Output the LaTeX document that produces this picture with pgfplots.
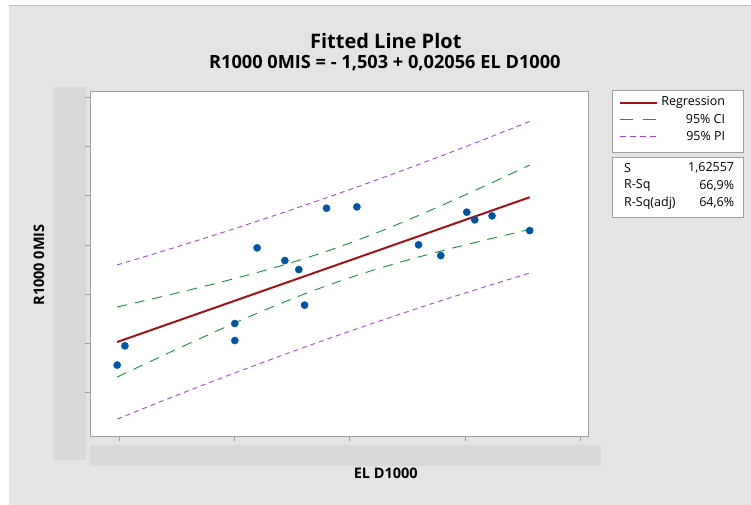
\documentclass[border=0pt]{standalone}
\usepackage{fontspec}
\setmainfont{Open Sans}
\usepackage{pgfplots}
\pgfplotsset{compat=1.18}
\definecolor{bg}{RGB}{228,228,228}
\definecolor{labbox}{RGB}{217,217,217}
\definecolor{axisgrey}{RGB}{160,160,160}
\definecolor{regred}{RGB}{160,20,25}
\definecolor{cigreen}{RGB}{20,150,50}
\definecolor{pipurple}{RGB}{170,70,215}
\definecolor{ptblue}{RGB}{0,84,166}
\begin{document}
\begin{tikzpicture}[x=1pt,y=1pt]
\fill[white] (0,0) rectangle (751,505);
\fill[bg] (9,0) rectangle (751,500);
\draw[axisgrey!70, line width=0.8pt] (9,500) -- (751,500);
\fill[labbox] (53,45) rectangle (86,418);
\fill[labbox] (90,39) rectangle (601,60);
\node[font=\fontsize{20}{23}\selectfont\bfseries] at (386,463.5) {Fitted Line Plot};
\node[font=\fontsize{18.2}{20}\selectfont\bfseries] at (385,442) {R1000 0MIS = - 1,503 + 0,02056 EL D1000};
\node[font=\fontsize{14.5}{16}\selectfont\bfseries, rotate=90] at (39,240) {R1000 0MIS};
\node[font=\fontsize{14.5}{16}\selectfont\bfseries] at (386,31) {EL D1000};
\begin{axis}[at={(90pt,68pt)}, anchor=south west, width=499pt, height=346pt, scale only axis,
  xmin=174.9, xmax=606.9, ymin=-2.232, ymax=15.32,
  axis background/.style={fill=white},
  axis line style={draw=axisgrey, line width=0.8pt},
  xtick={200,300,400,500,600}, ytick={0,2.5,5,7.5,10,12.5,15},
  xticklabels={}, yticklabels={},
  tick align=outside, tick pos=left, major tick length=4.5pt,
  tick style={draw=axisgrey, line width=0.7pt}]
\addplot[pipurple, line width=0.9pt, dash pattern=on 5pt off 4pt] coordinates {
(198.5,6.492)(220,6.867)(240,7.223)(260,7.586)(280,7.954)(300,8.330)(320,8.712)(340,9.102)(360,9.500)(380,9.904)(400,10.316)(420,10.736)(440,11.163)(460,11.598)(480,12.039)(500,12.488)(520,12.943)(540,13.405)(555.8,13.774)};
\addplot[pipurple, line width=0.9pt, dash pattern=on 5pt off 4pt] coordinates {
(198.5,-1.336)(220,-0.827)(240,-0.361)(260,0.100)(280,0.554)(300,1.000)(320,1.440)(340,1.872)(360,2.298)(380,2.716)(400,3.126)(420,3.528)(440,3.923)(460,4.312)(480,4.693)(500,5.066)(520,5.433)(540,5.793)(555.8,6.074)};
\addplot[cigreen, line width=0.9pt, dash pattern=on 10pt off 8pt] coordinates {
(198.5,4.356)(220,4.647)(240,4.922)(260,5.204)(280,5.494)(300,5.794)(320,6.108)(340,6.441)(360,6.799)(380,7.184)(400,7.599)(420,8.044)(440,8.516)(460,9.011)(480,9.522)(500,10.047)(520,10.582)(540,11.125)(555.8,11.558)};
\addplot[cigreen, line width=0.9pt, dash pattern=on 10pt off 8pt] coordinates {
(198.5,0.800)(220,1.393)(240,1.940)(260,2.482)(280,3.014)(300,3.536)(320,4.044)(340,4.533)(360,4.999)(380,5.436)(400,5.843)(420,6.220)(440,6.570)(460,6.899)(480,7.210)(500,7.507)(520,7.794)(540,8.073)(555.8,8.290)};
\addplot[regred, line width=2pt] coordinates {(198.5,2.578)(555.8,9.924)};
\addplot[only marks, mark=*, mark size=3.6pt, ptblue, mark options={draw=ptblue, fill=ptblue}] coordinates {
(198.5,1.405)(205.2,2.384)(300.4,3.516)(300.4,2.653)(319.7,7.356)(343.7,6.712)(355.8,6.255)(360.8,4.449)(379.8,9.370)(406.1,9.436)(459.5,7.508)(478.8,6.965)(501.3,9.167)(508.2,8.776)(523.2,8.979)(555.8,8.233)};
\end{axis}
% legend box
\draw[axisgrey, line width=0.8pt, fill=white] (612.3,414.3) rectangle (743.3,352.7);
\draw[regred, line width=2pt] (620,402.3) -- (657,402.3);
\draw[cigreen, line width=0.9pt, dash pattern=on 13pt off 10pt] (620,385.3) -- (656,385.3);
\draw[pipurple, line width=0.9pt, dash pattern=on 6pt off 4pt] (620,368.3) -- (656,368.3);
\node[font=\fontsize{12.5}{14}\selectfont, anchor=east] at (729,402.8) {Regression};
\node[font=\fontsize{12.5}{14}\selectfont, anchor=east] at (729,385.8) {95\% CI};
\node[font=\fontsize{12.5}{14}\selectfont, anchor=east] at (729,368.8) {95\% PI};
% stats box
\draw[axisgrey, line width=0.8pt, fill=white] (612.3,347.7) rectangle (743.3,287.3);
\node[font=\fontsize{12.5}{14}\selectfont, anchor=west] at (621,337) {S};
\node[font=\fontsize{12.5}{14}\selectfont, anchor=west] at (621,319.5) {R-Sq};
\node[font=\fontsize{12.5}{14}\selectfont, anchor=west] at (621,302) {R-Sq(adj)};
\node[font=\fontsize{12.5}{14}\selectfont, anchor=east] at (738,337) {1,62557};
\node[font=\fontsize{12.5}{14}\selectfont, anchor=east] at (738,319.5) {66,9\%};
\node[font=\fontsize{12.5}{14}\selectfont, anchor=east] at (738,302) {64,6\%};
\end{tikzpicture}
\end{document}
